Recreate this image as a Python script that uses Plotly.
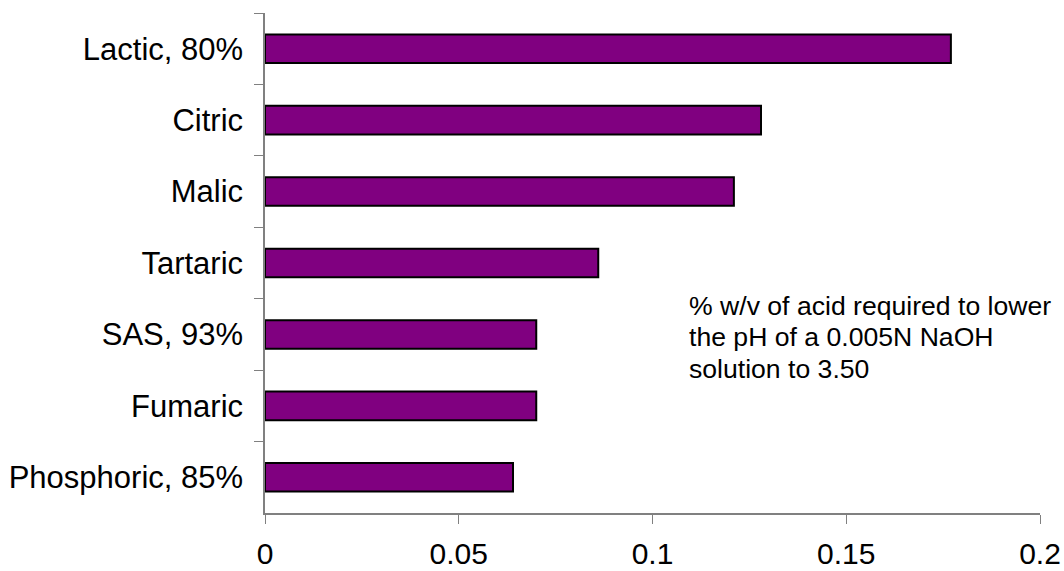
import plotly.graph_objects as go

categories = ["Lactic, 80%", "Citric", "Malic", "Tartaric", "SAS, 93%", "Fumaric", "Phosphoric, 85%"]
values = [0.177, 0.128, 0.121, 0.086, 0.070, 0.070, 0.064]
x_ticks = [0, 0.05, 0.1, 0.15, 0.2]
x_tick_labels = ["0", "0.05", "0.1", "0.15", "0.2"]
note_lines = ["% w/v of acid required to lower", "the pH of a 0.005N NaOH", "solution to 3.50"]

FONT = "Arial, Liberation Sans, sans-serif"

fig = go.Figure(
    go.Bar(
        x=values,
        y=categories,
        orientation="h",
        marker=dict(color="#800080", line=dict(color="#000000", width=2)),
        showlegend=False,
        hoverinfo="x+y",
    )
)

line_y = [0.4147, 0.3527, 0.2887]
annotations = [
    dict(
        x=0.109,
        xref="x",
        xanchor="left",
        y=yy,
        yref="paper",
        yanchor="middle",
        text=t,
        showarrow=False,
        align="left",
        font=dict(family=FONT, size=26.6, color="black"),
    )
    for t, yy in zip(note_lines, line_y)
]

fig.update_layout(
    width=1064,
    height=571,
    margin=dict(l=265, r=24, t=13, b=58, autoexpand=False),
    paper_bgcolor="white",
    plot_bgcolor="white",
    bargap=0.6,
    font=dict(family=FONT, size=30, color="black"),
    xaxis=dict(
        range=[0, 0.2],
        tickvals=x_ticks,
        ticktext=x_tick_labels,
        ticks="outside",
        ticklen=9,
        tickwidth=1,
        tickcolor="#808080",
        showline=True,
        linecolor="#808080",
        linewidth=1.5,
        showgrid=False,
        zeroline=False,
        automargin=False,
        tickfont=dict(family=FONT, size=30, color="black"),
        ticklabelstandoff=4,
    ),
    yaxis=dict(
        categoryorder="array",
        categoryarray=categories,
        autorange="reversed",
        ticks="outside",
        tickson="boundaries",
        ticklen=9,
        tickwidth=1,
        tickcolor="#808080",
        showline=True,
        linecolor="#808080",
        linewidth=1.5,
        showgrid=False,
        zeroline=False,
        automargin=False,
        tickfont=dict(family=FONT, size=31, color="black"),
        ticklabelstandoff=14,
    ),
    annotations=annotations,
)

fig.write_html("out.html")
